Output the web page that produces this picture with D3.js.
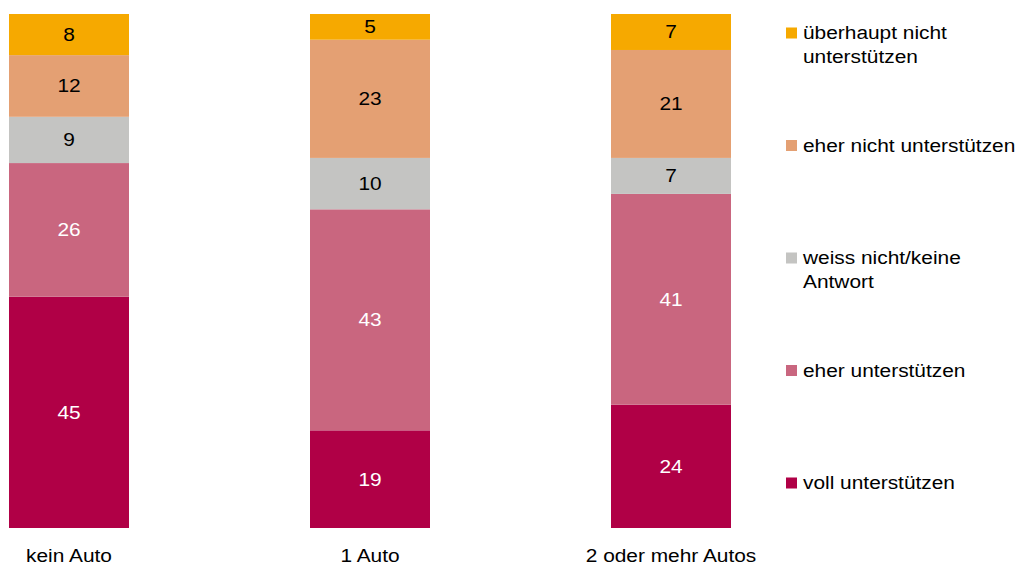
<!DOCTYPE html>
<html>
<head>
<meta charset="utf-8">
<script src="https://cdn.jsdelivr.net/npm/d3@7"></script>
<style>
  html, body { margin: 0; padding: 0; background: #fff; }
  svg { display: block; font-family: "Liberation Sans", Arial, sans-serif; }
</style>
</head>
<body>
<svg id="chart" width="1019" height="565"></svg>
<script>
// Car ownership groups
const categories = ["kein Auto", "1 Auto", "2 oder mehr Autos"];

// Response options, bottom of the stack first
const seriesNames = [
  "voll unterstützen",
  "eher unterstützen",
  "weiss nicht/keine Antwort",
  "eher nicht unterstützen",
  "überhaupt nicht unterstützen"
];

// Shares in percent per group, same order as seriesNames
const vollUnterstuetzen = [45, 19, 24];
const eherUnterstuetzen = [26, 43, 41];
const weissNicht = [9, 10, 7];
const eherNichtUnterstuetzen = [12, 23, 21];
const ueberhauptNicht = [8, 5, 7];

// Legend text lines, top to bottom
const legendLabels = [
  ["überhaupt nicht", "unterstützen"],
  ["eher nicht unterstützen"],
  ["weiss nicht/keine", "Antwort"],
  ["eher unterstützen"],
  ["voll unterstützen"]
];

const colors = ["#B00046", "#C9667F", "#C4C4C2", "#E4A073", "#F6A900"];
const labelColors = ["#fff", "#fff", "#000", "#000", "#000"];

// Text is set slightly wide
const FONT_SIZE = 18;
const TEXT_STRETCH = "scale(1.16,1)";

const seriesValues = [vollUnterstuetzen, eherUnterstuetzen, weissNicht, eherNichtUnterstuetzen, ueberhauptNicht];
const rows = categories.map((c, i) => {
  const r = { category: c };
  seriesNames.forEach((s, j) => { r[s] = seriesValues[j][i]; });
  return r;
});

const svg = d3.select("#chart");

const x = d3.scaleBand()
  .domain(categories)
  .range([9, 731])
  .paddingInner(181 / 301)
  .paddingOuter(0);

const y = d3.scaleLinear().domain([0, 100]).range([528, 14]);

const stacked = d3.stack().keys(seriesNames)(rows);

const layers = svg.append("g").selectAll("g")
  .data(stacked)
  .join("g")
  .attr("fill", (d, i) => colors[i]);

layers.selectAll("rect")
  .data(d => d)
  .join("rect")
  .attr("x", d => x(d.data.category))
  .attr("width", x.bandwidth())
  .attr("y", d => y(d[1]))
  .attr("height", d => y(d[0]) - y(d[1]));

// Value labels centred in each segment
svg.append("g").selectAll("g")
  .data(stacked)
  .join("g")
  .attr("fill", (d, i) => labelColors[i])
  .selectAll("text")
  .data(d => d)
  .join("text")
  .attr("transform", d =>
    `translate(${x(d.data.category) + x.bandwidth() / 2},${(y(d[0]) + y(d[1])) / 2}) ${TEXT_STRETCH}`)
  .attr("dy", "0.36em")
  .attr("text-anchor", "middle")
  .attr("font-size", FONT_SIZE)
  .text(d => d[1] - d[0]);

// Category axis
const xAxis = svg.append("g")
  .attr("transform", "translate(0,528)")
  .call(d3.axisBottom(x).tickSize(0).tickPadding(21));
xAxis.select(".domain").remove();
xAxis.selectAll("text")
  .attr("font-size", FONT_SIZE)
  .attr("fill", "#000")
  .attr("font-family", "Liberation Sans, Arial, sans-serif")
  .attr("transform", TEXT_STRETCH);

// Legend
const legendY = d3.scalePoint()
  .domain(d3.range(legendLabels.length))
  .range([33, 483]);

const legend = svg.append("g").selectAll("g")
  .data(legendLabels)
  .join("g")
  .attr("transform", (d, i) => `translate(786,${legendY(i)})`);

legend.append("rect")
  .attr("x", 0)
  .attr("y", -5.5)
  .attr("width", 11)
  .attr("height", 11)
  .attr("fill", (d, i) => colors[colors.length - 1 - i]);

legend.append("text")
  .attr("transform", `translate(17,6) ${TEXT_STRETCH}`)
  .attr("font-size", FONT_SIZE)
  .attr("fill", "#000")
  .selectAll("tspan")
  .data(d => d)
  .join("tspan")
  .attr("x", 0)
  .attr("dy", (d, i) => i === 0 ? 0 : 24)
  .text(d => d);
</script>
</body>
</html>
